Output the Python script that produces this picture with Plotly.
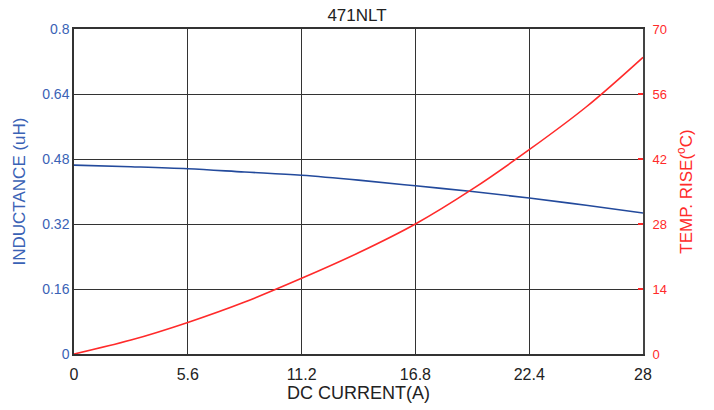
import plotly.graph_objects as go

# DC current sample points (A)
current = [0, 2.8, 5.6, 8.4, 11.2, 14, 16.8, 19.6, 22.4, 25.2, 28]
# Inductance vs current (uH)
inductance = [0.465, 0.461, 0.456, 0.448, 0.440, 0.428, 0.414, 0.400, 0.384, 0.366, 0.347]
# Temperature rise vs current (°C)
temp_rise = [0, 3.0, 6.8, 11.2, 16.3, 21.8, 28.0, 35.5, 44.0, 53.2, 63.9]

x_ticks = [0, 5.6, 11.2, 16.8, 22.4, 28]
x_tick_text = ["0", "5.6", "11.2", "16.8", "22.4", "28"]
l_ticks = [0, 0.16, 0.32, 0.48, 0.64, 0.8]
l_tick_text = ["0", "0.16", "0.32", "0.48", "0.64", "0.8"]
r_ticks = [0, 14, 28, 42, 56, 70]

BLUE = "#3a62b5"
RED = "#ff2a2a"
FONT = "Liberation Sans, Arial, sans-serif"

fig = go.Figure()
fig.add_trace(go.Scatter(x=current, y=inductance, mode="lines", line=dict(color="#234a9c", width=1.6, shape="spline"),
                         yaxis="y", showlegend=False))
fig.add_trace(go.Scatter(x=current, y=temp_rise, mode="lines", line=dict(color=RED, width=1.6, shape="spline"),
                         yaxis="y2", showlegend=False))

fig.update_layout(
    width=714, height=410,
    margin=dict(l=74, r=71, t=29, b=56),
    paper_bgcolor="white", plot_bgcolor="white",
    font=dict(family=FONT),
    title=dict(text="471NLT", x=0.5, xanchor="center", y=1 - 15 / 410, yanchor="middle",
               font=dict(size=17, color="#222222", family=FONT)),
    xaxis=dict(range=[0, 28], tickvals=x_ticks, ticktext=x_tick_text,
               showgrid=True, gridcolor="#333333", gridwidth=1,
               showline=True, linecolor="#333333", linewidth=1.5, mirror=True,
               ticks="", zeroline=False, ticklabelstandoff=5,
               tickfont=dict(size=16, color="#222222"),
               title=dict(text="DC CURRENT(A)", font=dict(size=18, color="#222222"), standoff=1)),
    yaxis=dict(range=[0, 0.8], tickvals=l_ticks, ticktext=l_tick_text,
               showgrid=True, gridcolor="#333333", gridwidth=1,
               showline=True, linecolor="#333333", linewidth=1.5,
               ticks="", zeroline=False,
               tickfont=dict(size=14, color=BLUE),
               title=dict(text="INDUCTANCE (uH)", font=dict(size=17, color=BLUE), standoff=12)),
    yaxis2=dict(range=[0, 70], tickvals=r_ticks, overlaying="y", side="right",
                showgrid=False, zeroline=False,
                showline=True, linecolor="#444444", linewidth=2,
                ticks="inside", ticklen=5, tickcolor=RED, tickwidth=2,
                ticklabelstandoff=5,
                tickfont=dict(size=13, color=RED),
                title=dict(text="TEMP. RISE(<sup>o</sup>C)", font=dict(size=17, color=RED), standoff=14)),
)

fig.write_html("out.html")
